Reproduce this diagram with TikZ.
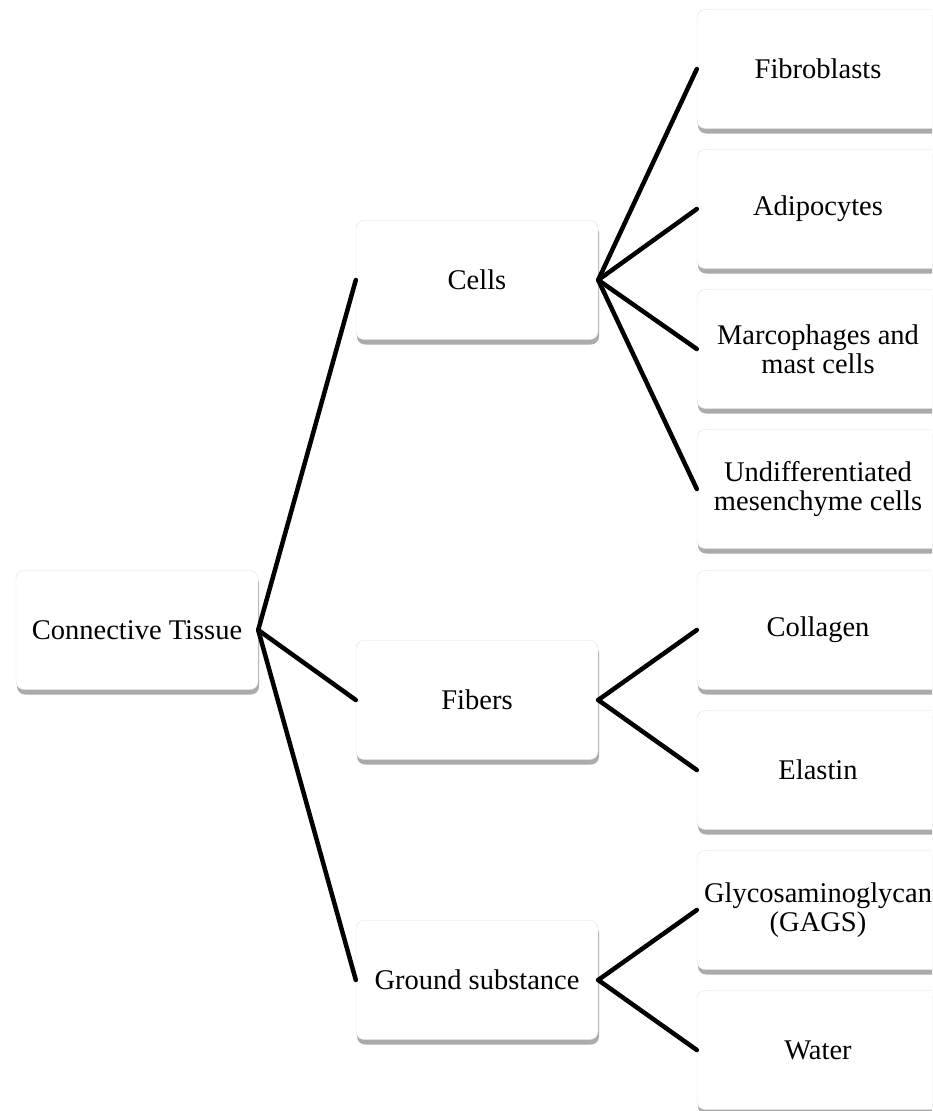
\documentclass[tikz,border=0pt]{standalone}
\usepackage{fontspec}
\setmainfont{Liberation Serif}
\usetikzlibrary{shadows}
\begin{document}
\begin{tikzpicture}[x=1pt,y=-1pt,
  box/.style={draw=black!12, fill=white, rounded corners=8pt,
    minimum width=242pt, minimum height=119pt, inner sep=0pt, align=center,
    font=\fontsize{28.5}{29}\selectfont,
    drop shadow={shadow xshift=1pt, shadow yshift=-5pt, opacity=0.55, fill=black!60}},
  link/.style={line width=4.5pt, line cap=round}]
\useasboundingbox (0,0) rectangle (932,1111);
\clip (0,0) rectangle (932,1111);
\node[box] (ct) at (137,630) {Connective Tissue};
\node[box] (cells) at (477,280) {Cells};
\node[box] (fibers) at (477,700) {Fibers};
\node[box] (ground) at (477,980) {Ground substance};
\node[box] (fib) at (818,69) {Fibroblasts};
\node[box] (adi) at (818,209) {Adipocytes};
\node[box] (mac) at (818,349) {Marcophages and\\mast cells};
\node[box] (und) at (818,489) {Undifferentiated\\mesenchyme cells};
\node[box] (col) at (818,630) {Collagen};
\node[box] (ela) at (818,770) {Elastin};
\node[box] (gly) at (818,910) {Glycosaminoglycan\\(GAGS)};
\node[box] (wat) at (818,1050) {Water};
\draw[link] (ct.east) -- (cells.west);
\draw[link] (ct.east) -- (fibers.west);
\draw[link] (ct.east) -- (ground.west);
\foreach \t in {fib,adi,mac,und} \draw[link] (cells.east) -- (\t.west);
\foreach \t in {col,ela} \draw[link] (fibers.east) -- (\t.west);
\foreach \t in {gly,wat} \draw[link] (ground.east) -- (\t.west);
\end{tikzpicture}
\end{document}
